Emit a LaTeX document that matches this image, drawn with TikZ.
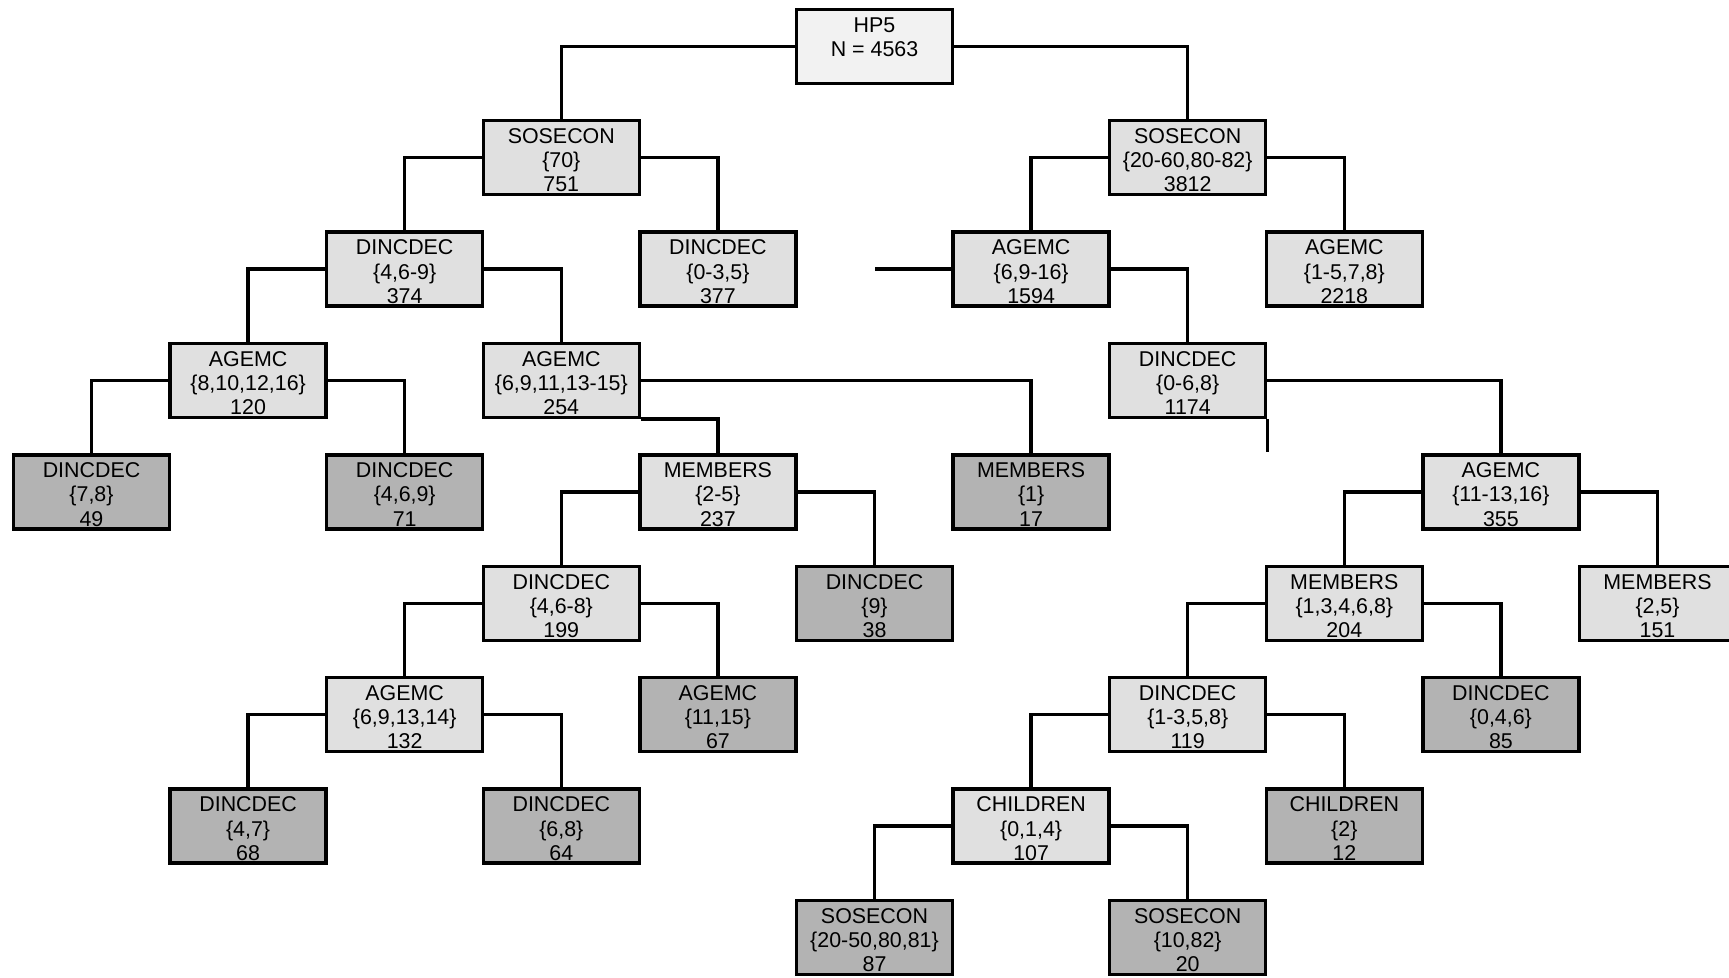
\documentclass[tikz,border=0pt]{standalone}
\usepackage{fontspec}
\setmainfont{Liberation Sans}
\definecolor{rootfill}{HTML}{F2F2F2}
\definecolor{splitfill}{HTML}{E0E0E0}
\definecolor{leaffill}{HTML}{B3B3B3}
\newcommand{\boxtext}[1]{\parbox[c][37pt][t]{78pt}{\centering\fontsize{10.7pt}{12.1pt}\selectfont\rule{0pt}{11.4pt}#1}}

\begin{document}
\begin{tikzpicture}[x=0.5pt,y=-0.5pt,
  box/.style={draw,line width=1.7pt,inner sep=0pt},
  root/.style={box,fill=rootfill},
  split/.style={box,fill=splitfill},
  leaf/.style={box,fill=leaffill},
  link/.style={line width=1.7pt}]
\useasboundingbox (0,0) rectangle (1729,978);

% level 0 and 1
\node[root] (n4563) at (874.5,46.3) {\boxtext{HP5\\N = 4563}};
\node[split] (n751) at (561.3,157.7) {\boxtext{SOSECON\\\{70\}\\751}};
\node[split] (n3812) at (1187.7,157.7) {\boxtext{SOSECON\\\{20-60,80-82\}\\3812}};

% level 2
\node[split] (n374) at (404.7,269.1) {\boxtext{DINCDEC\\\{4,6-9\}\\374}};
\node[split] (n377) at (717.9,269.1) {\boxtext{DINCDEC\\\{0-3,5\}\\377}};
\node[split] (n1594) at (1031.1,269.1) {\boxtext{AGEMC\\\{6,9-16\}\\1594}};
\node[split] (n2218) at (1344.3,269.1) {\boxtext{AGEMC\\\{1-5,7,8\}\\2218}};

% level 3
\node[split] (n120) at (248.1,380.5) {\boxtext{AGEMC\\\{8,10,12,16\}\\120}};
\node[split] (n254) at (561.3,380.5) {\boxtext{AGEMC\\\{6,9,11,13-15\}\\254}};
\node[split] (n1174) at (1187.7,380.5) {\boxtext{DINCDEC\\\{0-6,8\}\\1174}};

% level 4
\node[leaf] (n49) at (91.5,491.9) {\boxtext{DINCDEC\\\{7,8\}\\49}};
\node[leaf] (n71) at (404.7,491.9) {\boxtext{DINCDEC\\\{4,6,9\}\\71}};
\node[split] (n237) at (717.9,491.9) {\boxtext{MEMBERS\\\{2-5\}\\237}};
\node[leaf] (n17) at (1031.1,491.9) {\boxtext{MEMBERS\\\{1\}\\17}};
\node[split] (n355) at (1500.9,491.9) {\boxtext{AGEMC\\\{11-13,16\}\\355}};

% level 5
\node[split] (n199) at (561.3,603.3) {\boxtext{DINCDEC\\\{4,6-8\}\\199}};
\node[leaf] (n38) at (874.5,603.3) {\boxtext{DINCDEC\\\{9\}\\38}};
\node[split] (n204) at (1344.3,603.3) {\boxtext{MEMBERS\\\{1,3,4,6,8\}\\204}};
\node[split] (n151) at (1657.5,603.3) {\boxtext{MEMBERS\\\{2,5\}\\151}};

% level 6
\node[split] (n132) at (404.7,714.7) {\boxtext{AGEMC\\\{6,9,13,14\}\\132}};
\node[leaf] (n67) at (717.9,714.7) {\boxtext{AGEMC\\\{11,15\}\\67}};
\node[split] (n119) at (1187.7,714.7) {\boxtext{DINCDEC\\\{1-3,5,8\}\\119}};
\node[leaf] (n85) at (1500.9,714.7) {\boxtext{DINCDEC\\\{0,4,6\}\\85}};

% level 7 and 8
\node[leaf] (n68) at (248.1,826.1) {\boxtext{DINCDEC\\\{4,7\}\\68}};
\node[leaf] (n64) at (561.3,826.1) {\boxtext{DINCDEC\\\{6,8\}\\64}};
\node[split] (n107) at (1031.1,826.1) {\boxtext{CHILDREN\\\{0,1,4\}\\107}};
\node[leaf] (n12) at (1344.3,826.1) {\boxtext{CHILDREN\\\{2\}\\12}};
\node[leaf] (n87) at (874.5,937.5) {\boxtext{SOSECON\\\{20-50,80,81\}\\87}};
\node[leaf] (n20) at (1187.7,937.5) {\boxtext{SOSECON\\\{10,82\}\\20}};

\coordinate (loose) at (874.5,269.1);
\coordinate (stub) at ([yshift=-16.5pt]n1174.south east);

% connectors
\draw[link] (n4563.west) -| (n751.north);
\draw[link] (n4563.east) -| (n3812.north);
\draw[link] (n751.west) -| (n374.north);
\draw[link] (n751.east) -| (n377.north);
\draw[link] (n3812.west) -| (n1594.north);
\draw[link] (n3812.east) -| (n2218.north);
\draw[link] (n374.west) -| (n120.north);
\draw[link] (n374.east) -| (n254.north);
\draw[link] (n1594.west) -- (loose);
\draw[link] (n1594.east) -| (n1174.north);
\draw[link] (n120.west) -| (n49.north);
\draw[link] (n120.east) -| (n71.north);
\draw[link] (n254.south east) -| (n237.north);
\draw[link] (n254.east) -| (n17.north);
\draw[link] (n1174.east) -| (n355.north);
\draw[link] (n1174.south east) -- (stub);
\draw[link] (n237.west) -| (n199.north);
\draw[link] (n237.east) -| (n38.north);
\draw[link] (n355.west) -| (n204.north);
\draw[link] (n355.east) -| (n151.north);
\draw[link] (n199.west) -| (n132.north);
\draw[link] (n199.east) -| (n67.north);
\draw[link] (n204.west) -| (n119.north);
\draw[link] (n204.east) -| (n85.north);
\draw[link] (n132.west) -| (n68.north);
\draw[link] (n132.east) -| (n64.north);
\draw[link] (n119.west) -| (n107.north);
\draw[link] (n119.east) -| (n12.north);
\draw[link] (n107.west) -| (n87.north);
\draw[link] (n107.east) -| (n20.north);
\end{tikzpicture}
\end{document}
